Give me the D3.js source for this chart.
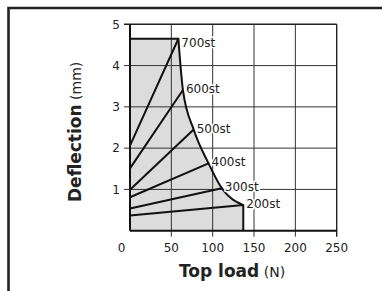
<!DOCTYPE html>
<html>
<head>
<meta charset="utf-8">
<script src="https://cdn.jsdelivr.net/npm/d3@7"></script>
<style>
  body { margin: 0; background: #fff; }
  svg { display: block; font-family: "DejaVu Sans", sans-serif; }
</style>
</head>
<body>
<div id="chart"></div>
<script>
// stroke lengths and where each line meets the load limit curve
var strokes = ["200st", "300st", "400st", "500st", "600st", "700st"];
var startDefl = [0.37, 0.54, 0.81, 0.99, 1.51, 2.06];
var endLoad = [137, 111, 95, 77, 64, 58.5];
var endDefl = [0.62, 1.03, 1.63, 2.45, 3.41, 4.65];

var xTicks = [0, 50, 100, 150, 200, 250];
var yTicks = [1, 2, 3, 4, 5];

var svgWidth = 382, svgHeight = 291;
var margin = { top: 24.3, right: 45.3, bottom: 60.3, left: 130 };
var width = svgWidth - margin.left - margin.right;
var height = svgHeight - margin.top - margin.bottom;

var svg = d3.select("#chart").append("svg")
    .attr("width", svgWidth)
    .attr("height", svgHeight);

// outer frame (left + top only)
svg.append("path")
    .attr("d", "M8.5,291 V8 H382")
    .attr("fill", "none")
    .attr("stroke", "#222")
    .attr("stroke-width", 2.6);

var chartGroup = svg.append("g")
    .attr("transform", `translate(${margin.left}, ${margin.top})`);

var x = d3.scaleLinear().domain([0, 250]).range([0, width]);
var y = d3.scaleLinear().domain([0, 5]).range([height, 0]);

// shaded area: top edge, limit curve, then straight down
var envelope = endLoad.map((d, i) => [d, endDefl[i]]).reverse();

var curveLine = d3.line()
    .x(d => x(d[0]))
    .y(d => y(d[1]))
    .curve(d3.curveMonotoneX);

var topPart = "M" + x(0) + "," + y(0) + "L" + x(0) + "," + y(endDefl[5]);
var curvePart = curveLine(envelope).replace(/^M/, "L");
var bottomPart = "L" + x(endLoad[0]) + "," + y(0) + "Z";

chartGroup.append("path")
    .attr("d", topPart + curvePart + bottomPart)
    .attr("fill", "#dcdcdc")
    .attr("stroke", "none");

// grid
chartGroup.append("g")
    .selectAll("line")
    .data([50, 100, 150, 200])
    .enter()
    .append("line")
    .attr("x1", d => x(d)).attr("x2", d => x(d))
    .attr("y1", 0).attr("y2", height + 6)
    .attr("stroke", "#333")
    .attr("stroke-width", 1);

chartGroup.append("g")
    .selectAll("line")
    .data([1, 2, 3, 4])
    .enter()
    .append("line")
    .attr("x1", -6).attr("x2", width)
    .attr("y1", d => y(d)).attr("y2", d => y(d))
    .attr("stroke", "#333")
    .attr("stroke-width", 1);

// right border and top border
chartGroup.append("line")
    .attr("x1", x(250)).attr("x2", x(250))
    .attr("y1", 0).attr("y2", height + 6)
    .attr("stroke", "#222").attr("stroke-width", 1.4);
chartGroup.append("line")
    .attr("x1", -6).attr("x2", width)
    .attr("y1", y(5)).attr("y2", y(5))
    .attr("stroke", "#222").attr("stroke-width", 1.6);

// outline of the shaded area
chartGroup.append("path")
    .attr("d", "M" + x(0) + "," + y(endDefl[5]) + curvePart + "L" + x(endLoad[0]) + "," + y(0))
    .attr("fill", "none")
    .attr("stroke", "#111")
    .attr("stroke-width", 2);

// stroke lines
chartGroup.selectAll(".stroke-line")
    .data(strokes)
    .enter()
    .append("line")
    .attr("class", "stroke-line")
    .attr("x1", x(0))
    .attr("y1", (d, i) => y(startDefl[i]))
    .attr("x2", (d, i) => x(endLoad[i]))
    .attr("y2", (d, i) => y(endDefl[i]))
    .attr("stroke", "#111")
    .attr("stroke-width", 2);

// axes lines
chartGroup.append("line")
    .attr("x1", 0).attr("x2", 0)
    .attr("y1", 0).attr("y2", height)
    .attr("stroke", "#111").attr("stroke-width", 2);
chartGroup.append("line")
    .attr("x1", 0).attr("x2", width)
    .attr("y1", height).attr("y2", height)
    .attr("stroke", "#111").attr("stroke-width", 2);

// labels with white halo (700st sits a bit below its corner)
chartGroup.selectAll(".st-label")
    .data(strokes)
    .enter()
    .append("text")
    .attr("class", "st-label")
    .attr("x", (d, i) => x(endLoad[i]) + 3)
    .attr("y", (d, i) => y(endDefl[i]) + (d === "700st" ? 8 : 3))
    .attr("font-size", "12px")
    .attr("fill", "#222")
    .attr("stroke", "#fff")
    .attr("stroke-width", 3)
    .attr("paint-order", "stroke")
    .text(d => d);

// tick labels
chartGroup.selectAll(".xtick")
    .data(xTicks)
    .enter()
    .append("text")
    .attr("class", "xtick")
    .attr("x", d => d === 0 ? x(d) - 8.5 : x(d))
    .attr("y", height + 21)
    .attr("text-anchor", "middle")
    .attr("font-size", "12px")
    .attr("fill", "#222")
    .text(d => d);

chartGroup.selectAll(".ytick")
    .data(yTicks)
    .enter()
    .append("text")
    .attr("class", "ytick")
    .attr("x", -10)
    .attr("y", d => y(d))
    .attr("dy", "0.35em")
    .attr("text-anchor", "end")
    .attr("font-size", "12px")
    .attr("fill", "#222")
    .text(d => d);

// axis titles
var yTitle = svg.append("text")
    .attr("transform", "translate(80.5, 202) rotate(-90)")
    .attr("fill", "#222");
yTitle.append("tspan").attr("font-weight", "bold").attr("font-size", "17px").text("Deflection");
yTitle.append("tspan").attr("font-size", "14px").text(" (mm)");

var xTitle = svg.append("text")
    .attr("x", 179)
    .attr("y", 276.5)
    .attr("fill", "#222");
xTitle.append("tspan").attr("font-weight", "bold").attr("font-size", "17px").text("Top load");
xTitle.append("tspan").attr("font-size", "14px").text(" (N)");
</script>
</body>
</html>
